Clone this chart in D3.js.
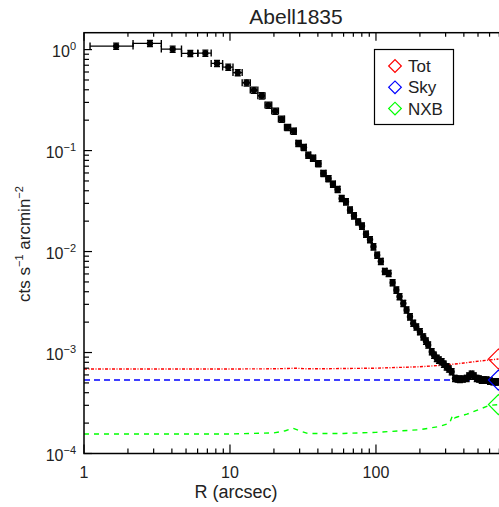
<!DOCTYPE html>
<html lang="en">
<head>
<meta charset="UTF-8">
<title>Abell1835</title>
<script src="https://cdn.jsdelivr.net/npm/d3@7"></script>
<style>
body { margin: 0; background: #fff; }
svg text { font-family: "Liberation Sans", Arial, sans-serif; fill: #222; }
</style>
</head>
<body>
<svg id="chart" width="499" height="507"></svg>
<script>
// surface brightness profile, radius in arcsec
var radius = [1.66, 2.83, 4.05, 5.35, 6.78, 8.15, 9.73, 11.3, 13.0, 14.6,
  16.5, 18.3, 20.4, 22.6, 24.7, 27.4, 29.4, 32.1, 34.4, 37.0,
  40.3, 43.7, 47.3, 50.7, 54.7, 58.2, 62.3, 66.4, 70.7, 75.6,
  80.2, 85.5, 91.0, 96.1, 102, 108, 115, 122, 130, 138,
  145, 154, 162, 171, 180, 189, 200, 211, 220, 228,
  241, 250, 261, 270, 282, 292, 305, 316, 330, 348,
  362, 376, 394, 418, 434, 452, 469, 490, 508, 530,
  549, 573, 604, 636, 664, 688];
var brightness = [1.083, 1.152, 1.011, 0.917, 0.923, 0.730, 0.671, 0.592, 0.469, 0.397,
  0.349, 0.282, 0.246, 0.205, 0.170, 0.156, 0.118, 0.1076, 0.0902, 0.0843,
  0.0743, 0.0595, 0.0528, 0.0466, 0.0413, 0.0336, 0.0311, 0.0258, 0.0226, 0.0197,
  0.0179, 0.0149, 0.01314, 0.01115, 0.00923, 0.00800, 0.00637, 0.00608, 0.00491, 0.00416,
  0.00358, 0.00307, 0.00264, 0.00226, 0.00195, 0.00179, 0.00161, 0.00143, 0.00130, 0.00119,
  0.00102, 0.000944, 0.000877, 0.000843, 0.000811, 0.000769, 0.000723, 0.000687, 0.000646, 0.000555,
  0.000547, 0.000543, 0.000547, 0.000555, 0.000585, 0.000612, 0.000585, 0.000555, 0.000547, 0.000534,
  0.000534, 0.000534, 0.000522, 0.000514, 0.000511, 0.000514];
var firstEdge = 1.1;   // inner edge of the first bin
var relErr = 0.07;     // error bar half size, fraction of value

// background curves
var totR = [1, 10, 20, 25, 28, 32, 40, 100, 200, 300, 400, 515, 690];
var totVal = [6.87e-4, 6.87e-4, 6.9e-4, 6.95e-4, 7.0e-4, 6.92e-4, 6.9e-4, 7.0e-4, 7.23e-4, 7.52e-4, 7.87e-4, 8.24e-4, 8.63e-4];
var skyR = [1, 690];
var skyVal = [5.34e-4, 5.34e-4];
var nxbR = [1, 10, 20, 24, 27, 30, 34, 60, 100, 200, 270, 320, 335, 345, 360, 420, 515, 600, 690];
var nxbVal = [1.56e-4, 1.56e-4, 1.6e-4, 1.68e-4, 1.78e-4, 1.68e-4, 1.58e-4, 1.58e-4, 1.62e-4, 1.72e-4,
  1.85e-4, 2.0e-4, 2.4e-4, 2.25e-4, 2.3e-4, 2.45e-4, 2.75e-4, 3.0e-4, 3.05e-4];

var legendNames = ["Tot", "Sky", "NXB"];
var legendColors = ["#ff0000", "#0000ff", "#00ff00"];
var xTickLabels = [1, 10, 100];
var yTickExps = [0, -1, -2, -3, -4];

var svg = d3.select("#chart");
var pLeft = 84, pRight = 507.8, pTop = 32.7, pBottom = 453.5;

var x = d3.scaleLog().domain([1, 800]).range([pLeft, pRight]);
var y = d3.scaleLog().domain([1e-4, 1.47]).range([pBottom, pTop]);

svg.append("clipPath").attr("id", "plotclip")
  .append("rect").attr("x", pLeft).attr("y", pTop)
  .attr("width", pRight - pLeft).attr("height", pBottom - pTop);

var plot = svg.append("g").attr("clip-path", "url(#plotclip)");

// background model lines
var line = d3.line().x(function(d) { return x(d[0]); }).y(function(d) { return y(d[1]); });
var curves = [
  { r: totR, v: totVal, color: legendColors[0], dash: "3,1.5,1,1.5" },
  { r: skyR, v: skyVal, color: legendColors[1], dash: "6,4" },
  { r: nxbR, v: nxbVal, color: legendColors[2], dash: "5,5" }
];
curves.forEach(function(c) {
  plot.append("path")
    .attr("d", line(d3.zip(c.r, c.v)))
    .attr("fill", "none")
    .attr("stroke", c.color)
    .attr("stroke-width", 1.4)
    .attr("stroke-dasharray", c.dash);
});

// data points with error bars
var pts = radius.map(function(r, i) {
  var lo = i === 0 ? firstEdge : Math.sqrt(radius[i - 1] * r);
  var hi = i === radius.length - 1 ? r * r / Math.sqrt(radius[i - 1] * r) : Math.sqrt(r * radius[i + 1]);
  return { r: r, v: brightness[i], lo: lo, hi: hi };
});

var g = plot.append("g").attr("stroke", "#000").attr("stroke-width", 1.4);
pts.forEach(function(p) {
  var cy = y(p.v);
  g.append("line").attr("x1", x(p.lo)).attr("x2", x(p.hi)).attr("y1", cy).attr("y2", cy);
  g.append("line").attr("x1", x(p.lo)).attr("x2", x(p.lo)).attr("y1", cy - 3.5).attr("y2", cy + 3.5);
  g.append("line").attr("x1", x(p.hi)).attr("x2", x(p.hi)).attr("y1", cy - 3.5).attr("y2", cy + 3.5);
  var y1 = y(p.v * (1 + relErr)), y2 = y(p.v * (1 - relErr));
  g.append("line").attr("x1", x(p.r)).attr("x2", x(p.r)).attr("y1", y1).attr("y2", y2);
  g.append("line").attr("x1", x(p.r) - 3).attr("x2", x(p.r) + 3).attr("y1", y1).attr("y2", y1);
  g.append("line").attr("x1", x(p.r) - 3).attr("x2", x(p.r) + 3).attr("y1", y2).attr("y2", y2);
  g.append("circle").attr("cx", x(p.r)).attr("cy", cy).attr("r", 3.2).attr("fill", "#000").attr("stroke", "none");
});

// diamonds at the end of each curve
var bigDiamond = d3.symbol().type(d3.symbolSquare).size(200);
curves.forEach(function(c) {
  var n = c.r.length - 1;
  plot.append("path")
    .attr("d", bigDiamond())
    .attr("transform", "translate(" + x(c.r[n]) + "," + y(c.v[n]) + ") rotate(45)")
    .attr("fill", "none").attr("stroke", c.color).attr("stroke-width", 1.2);
});

// frame
svg.append("rect").attr("x", pLeft).attr("y", pTop)
  .attr("width", pRight - pLeft).attr("height", pBottom - pTop)
  .attr("fill", "none").attr("stroke", "#000").attr("stroke-width", 1.5);

// ticks
var ticks = svg.append("g").attr("stroke", "#000").attr("stroke-width", 1.2);
var xMinor = [];
[1, 10, 100].forEach(function(d) {
  for (var k = 1; k < 10; k++) if (d * k <= 800) xMinor.push(d * k);
});
xMinor.forEach(function(t) {
  var major = xTickLabels.indexOf(t) >= 0;
  var len = major ? 9 : 5;
  ticks.append("line").attr("x1", x(t)).attr("x2", x(t)).attr("y1", pBottom).attr("y2", pBottom - len);
  ticks.append("line").attr("x1", x(t)).attr("x2", x(t)).attr("y1", pTop).attr("y2", pTop + len - 1);
});
var yMinor = [];
[1e-4, 1e-3, 1e-2, 1e-1, 1].forEach(function(d) {
  for (var k = 1; k < 10; k++) if (d * k <= 1.47) yMinor.push(d * k);
});
yMinor.forEach(function(t, i) {
  var major = (i % 9) === 0;
  var len = major ? 8 : 5;
  ticks.append("line").attr("x1", pLeft).attr("x2", pLeft + len).attr("y1", y(t)).attr("y2", y(t));
});

// x tick labels
svg.selectAll(".xlab").data(xTickLabels).enter().append("text")
  .attr("x", function(d) { return x(d); })
  .attr("y", 478)
  .attr("text-anchor", "middle")
  .attr("font-size", 16)
  .text(function(d) { return d; });

// y tick labels 10^n
yTickExps.forEach(function(e) {
  var t = svg.append("text")
    .attr("x", 76).attr("y", y(Math.pow(10, e)) + 7)
    .attr("text-anchor", "end")
    .attr("font-size", 16);
  t.append("tspan").text("10");
  t.append("tspan").attr("dy", -7).attr("font-size", 11).text(e === 0 ? "0" : "\u2212" + (-e));
});

// axis titles
svg.append("text").attr("x", 236).attr("y", 498)
  .attr("text-anchor", "middle").attr("font-size", 18).text("R (arcsec)");

var yt = svg.append("text")
  .attr("transform", "translate(30,244) rotate(-90)")
  .attr("text-anchor", "middle").attr("font-size", 17);
yt.append("tspan").text("cts s");
yt.append("tspan").attr("dy", -7).attr("font-size", 11).text("\u22121");
yt.append("tspan").attr("dy", 7).text(" arcmin");
yt.append("tspan").attr("dy", -7).attr("font-size", 11).text("\u22122");

svg.append("text").attr("x", 296).attr("y", 24)
  .attr("text-anchor", "middle").attr("font-size", 21).text("Abell1835");

// legend
var lg = svg.append("g");
lg.append("rect").attr("x", 374.5).attr("y", 49.5).attr("width", 79).attr("height", 75)
  .attr("fill", "#fff").attr("stroke", "#000").attr("stroke-width", 1.2);
var smallDiamond = d3.symbol().type(d3.symbolSquare).size(80);
legendNames.forEach(function(name, i) {
  var cy = 66 + i * 21.3;
  lg.append("path").attr("d", smallDiamond())
    .attr("transform", "translate(395," + cy + ") rotate(45)")
    .attr("fill", "none").attr("stroke", legendColors[i]).attr("stroke-width", 1.2);
  lg.append("text").attr("x", 408).attr("y", cy + 6).attr("font-size", 17).text(name);
});
</script>
</body>
</html>
